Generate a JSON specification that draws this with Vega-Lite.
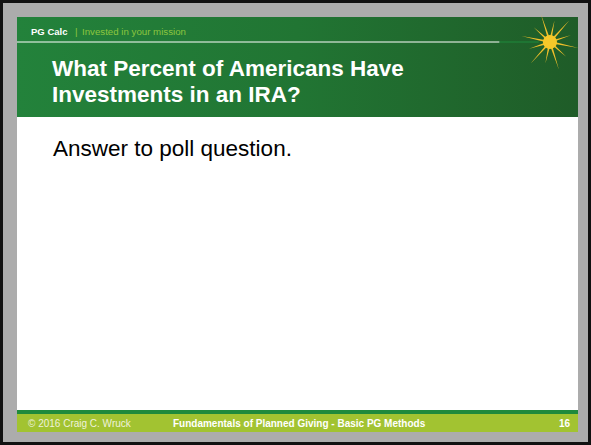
{
  "$schema": "https://vega.github.io/schema/vega-lite/v6.json",
  "width": 591,
  "height": 445,
  "padding": 0,
  "autosize": {"type": "none"},
  "background": "#acacac",
  "config": {
    "view": {"stroke": "#111111", "strokeWidth": 6, "fill": "#acacac"},
    "axis": {"disable": true},
    "font": "Liberation Sans",
    "text": {"font": "Liberation Sans"}
  },
  "layer": [
    {
      "data": {"values": [
        {"part": "slide", "x": 0, "x2": 10, "y": 0, "y2": 7.5},
        {"part": "footerline", "x": 0, "x2": 10, "y": 7.103, "y2": 7.175},
        {"part": "footer", "x": 0, "x2": 10, "y": 7.175, "y2": 7.5}
      ]},
      "mark": {"type": "rect", "strokeWidth": 0},
      "encoding": {
        "x": {"field": "x", "type": "quantitative", "scale": {"domain": [-0.303, 10.2318], "nice": false, "zero": false}, "axis": null},
        "x2": {"field": "x2"},
        "y": {"field": "y", "type": "quantitative", "scale": {"domain": [-0.3072, 7.735], "nice": false, "zero": false, "reverse": true}, "axis": null},
        "y2": {"field": "y2"},
        "color": {"field": "part", "type": "nominal", "scale": {"domain": ["slide", "footerline", "footer"], "range": ["#ffffff", "#1f8a3c", "#a2c331"]}, "legend": null}
      }
    },
    {
      "data": {"values": [{"x": 0, "x2": 10, "y": 0, "y2": 1.807}]},
      "mark": {"type": "rect", "strokeWidth": 0, "fill": {"gradient": "linear", "x1": 0, "y1": 0, "x2": 1, "y2": 0, "stops": [{"offset": 0, "color": "#23823b"}, {"offset": 0.5, "color": "#217533"}, {"offset": 1, "color": "#1f5c28"}]}},
      "encoding": {
        "x": {"field": "x", "type": "quantitative", "scale": {"domain": [-0.303, 10.2318], "nice": false, "zero": false}, "axis": null},
        "x2": {"field": "x2"},
        "y": {"field": "y", "type": "quantitative", "scale": {"domain": [-0.3072, 7.735], "nice": false, "zero": false, "reverse": true}, "axis": null},
        "y2": {"field": "y2"}
      }
    },
    {
      "data": {"values": [{"part": "line", "x": 0, "x2": 8.6, "y": 0.452}, {"part": "glow", "x": 8.6, "x2": 9.3, "y": 0.452}]},
      "mark": {"type": "rule", "strokeWidth": 1},
      "encoding": {
        "x": {"field": "x", "type": "quantitative", "scale": {"domain": [-0.303, 10.2318], "nice": false, "zero": false}, "axis": null},
        "x2": {"field": "x2"},
        "y": {"field": "y", "type": "quantitative", "scale": {"domain": [-0.3072, 7.735], "nice": false, "zero": false, "reverse": true}, "axis": null},
        "color": {"field": "part", "type": "nominal", "scale": {"domain": ["line", "glow"], "range": ["#9cc41c", "#e6df8a"]}, "legend": null}
      }
    },
    {
      "data": {"values": [{"x": 9.5, "y": 0.452}]},
      "mark": {"type": "point", "filled": true, "opacity": 1, "fill": "#f0bf2a", "strokeWidth": 0, "size": 3400, "angle": 12,
        "shape": "M1,0L0.13,0.035L0.65,0.375L0.095,0.095L0.5,0.866L0.035,0.13L0,0.75L-0.035,0.13L-0.5,0.866L-0.095,0.095L-0.65,0.375L-0.13,0.035L-1,0L-0.13,-0.035L-0.65,-0.375L-0.095,-0.095L-0.5,-0.866L-0.035,-0.13L0,-0.75L0.035,-0.13L0.5,-0.866L0.095,-0.095L0.65,-0.375L0.13,-0.035Z"},
      "encoding": {
        "x": {"field": "x", "type": "quantitative", "scale": {"domain": [-0.303, 10.2318], "nice": false, "zero": false}, "axis": null},
        "y": {"field": "y", "type": "quantitative", "scale": {"domain": [-0.3072, 7.735], "nice": false, "zero": false, "reverse": true}, "axis": null}
      }
    },
    {
      "data": {"values": [{"x": 9.5, "y": 0.452}]},
      "mark": {"type": "point", "filled": true, "opacity": 1, "fill": "#f5c82a", "strokeWidth": 0, "size": 200, "shape": "circle"},
      "encoding": {
        "x": {"field": "x", "type": "quantitative", "scale": {"domain": [-0.303, 10.2318], "nice": false, "zero": false}, "axis": null},
        "y": {"field": "y", "type": "quantitative", "scale": {"domain": [-0.3072, 7.735], "nice": false, "zero": false, "reverse": true}, "axis": null}
      }
    },
    {
      "data": {"values": [
        {"x": 0.624, "y": 1.075, "label": "What Percent of Americans Have"},
        {"x": 0.624, "y": 1.545, "label": "Investments in an IRA?"}
      ]},
      "mark": {"type": "text", "align": "left", "baseline": "alphabetic", "fontSize": 22.5, "fontWeight": "bold", "color": "#ffffff", "font": "Liberation Sans"},
      "encoding": {
        "x": {"field": "x", "type": "quantitative", "scale": {"domain": [-0.303, 10.2318], "nice": false, "zero": false}, "axis": null},
        "y": {"field": "y", "type": "quantitative", "scale": {"domain": [-0.3072, 7.735], "nice": false, "zero": false, "reverse": true}, "axis": null},
        "text": {"field": "label"}
      }
    },
    {
      "data": {"values": [
        {"x": 0.25, "y": 0.325, "label": "PG Calc"}
      ]},
      "mark": {"type": "text", "align": "left", "baseline": "alphabetic", "fontSize": 9.5, "fontWeight": "bold", "color": "#ffffff", "font": "Liberation Sans"},
      "encoding": {
        "x": {"field": "x", "type": "quantitative", "scale": {"domain": [-0.303, 10.2318], "nice": false, "zero": false}, "axis": null},
        "y": {"field": "y", "type": "quantitative", "scale": {"domain": [-0.3072, 7.735], "nice": false, "zero": false, "reverse": true}, "axis": null},
        "text": {"field": "label"}
      }
    },
    {
      "data": {"values": [
        {"x": 1.034, "y": 0.325, "label": "|"},
        {"x": 1.159, "y": 0.325, "label": "Invested in your mission"}
      ]},
      "mark": {"type": "text", "align": "left", "baseline": "alphabetic", "fontSize": 9.7, "color": "#8cc63f", "font": "Liberation Sans"},
      "encoding": {
        "x": {"field": "x", "type": "quantitative", "scale": {"domain": [-0.303, 10.2318], "nice": false, "zero": false}, "axis": null},
        "y": {"field": "y", "type": "quantitative", "scale": {"domain": [-0.3072, 7.735], "nice": false, "zero": false, "reverse": true}, "axis": null},
        "text": {"field": "label"}
      }
    },
    {
      "data": {"values": [
        {"x": 0.642, "y": 2.505, "label": "Answer to poll question."}
      ]},
      "mark": {"type": "text", "align": "left", "baseline": "alphabetic", "fontSize": 22.5, "color": "#000000", "font": "Liberation Sans"},
      "encoding": {
        "x": {"field": "x", "type": "quantitative", "scale": {"domain": [-0.303, 10.2318], "nice": false, "zero": false}, "axis": null},
        "y": {"field": "y", "type": "quantitative", "scale": {"domain": [-0.3072, 7.735], "nice": false, "zero": false, "reverse": true}, "axis": null},
        "text": {"field": "label"}
      }
    },
    {
      "data": {"values": [
        {"x": 0.196, "y": 7.41, "label": "© 2016 Craig C. Wruck"}
      ]},
      "mark": {"type": "text", "align": "left", "baseline": "alphabetic", "fontSize": 10, "color": "#eef2dc", "font": "Liberation Sans"},
      "encoding": {
        "x": {"field": "x", "type": "quantitative", "scale": {"domain": [-0.303, 10.2318], "nice": false, "zero": false}, "axis": null},
        "y": {"field": "y", "type": "quantitative", "scale": {"domain": [-0.3072, 7.735], "nice": false, "zero": false, "reverse": true}, "axis": null},
        "text": {"field": "label"}
      }
    },
    {
      "data": {"values": [
        {"x": 2.78, "y": 7.41, "label": "Fundamentals of Planned Giving - Basic PG Methods"},
        {"x": 9.66, "y": 7.41, "label": "16"}
      ]},
      "mark": {"type": "text", "align": "left", "baseline": "alphabetic", "fontSize": 10, "fontWeight": "bold", "color": "#ffffff", "font": "Liberation Sans"},
      "encoding": {
        "x": {"field": "x", "type": "quantitative", "scale": {"domain": [-0.303, 10.2318], "nice": false, "zero": false}, "axis": null},
        "y": {"field": "y", "type": "quantitative", "scale": {"domain": [-0.3072, 7.735], "nice": false, "zero": false, "reverse": true}, "axis": null},
        "text": {"field": "label"}
      }
    }
  ]
}
